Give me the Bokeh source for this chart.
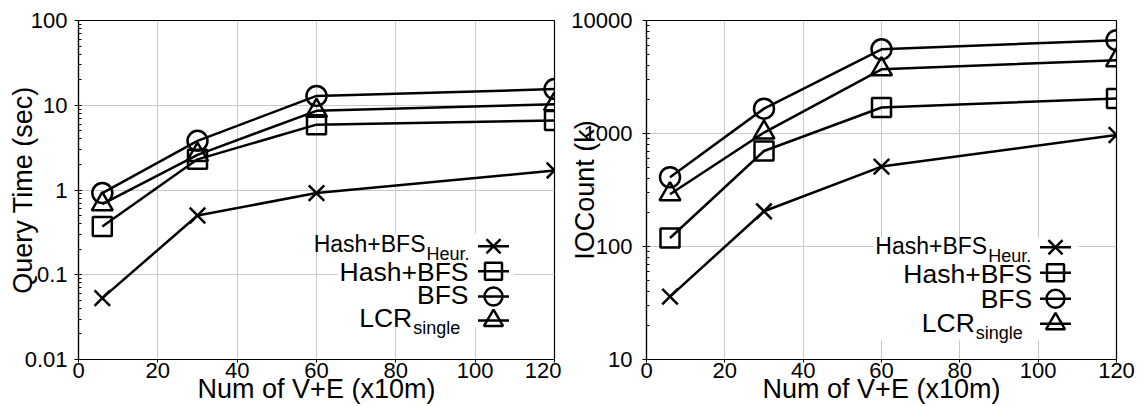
from bokeh.plotting import figure
from bokeh.layouts import row
from bokeh.models import Range1d, LinearScale, FixedTicker, LogTicker, CustomJSTickFormatter
from bokeh.embed import file_html
from bokeh.resources import INLINE
from bokeh.core.properties import value

# ---------------- data ----------------
sizes = [6, 30, 60, 120]                      # Num of V+E (x10m)
x_ticks = [0, 20, 40, 60, 80, 100, 120]

query_heur = [0.053, 0.50, 0.92, 1.70]        # Hash+BFS_Heur.
query_hash = [0.37, 2.3, 5.9, 6.6]            # Hash+BFS
query_bfs = [0.92, 3.8, 12.9, 15.5]           # BFS
query_lcr = [0.68, 2.6, 8.6, 10.3]            # LCR_single

io_heur = [36, 205, 510, 970]
io_hash = [119, 700, 1700, 2040]
io_bfs = [410, 1660, 5560, 6700]
io_lcr = [290, 1020, 3700, 4450]

series_main = ["Hash+BFS", "Hash+BFS", "BFS", "LCR"]
series_sub = ["Heur.", "", "", "single"]
markers = ["x", "square", "circle", "triangle"]
marker_sizes = [22, 19, 20, 21]

FONT = "Liberation Sans"
GRID = "#c8c8c8"

# ---------------- layout (screen px, not data) ----------------
H = 406
TOP, BOTTOM = 20, 47
FRAME_H = H - TOP - BOTTOM

panels = [
    dict(width=561, left=78, right=7, ylabel="Query Time (sec)",
         yr=(0.01, 100), label_standoff=-16, tick_standoff=7,
         series=[query_heur, query_hash, query_bfs, query_lcr],
         box=(259, 435, 32, 126),
         leg_x=415, leg_rows=[113.3, 88.3, 63, 39],
         txt_right=[347, 390, 390, 333.7], txt_mid=[115.1, 88, 65, 41.5]),
    dict(width=582, left=85, right=27, ylabel="IOCount (k)",
         yr=(10, 10000), label_standoff=-32, tick_standoff=10,
         series=[io_heur, io_hash, io_bfs, io_lcr],
         box=(227, 432, 19, 122),
         leg_x=409, leg_rows=[112.3, 86.7, 60.7, 35.7],
         txt_right=[340.7, 385.7, 385.7, 328.3], txt_mid=[113.2, 86, 60.7, 37]),
]

main_sizes = ["23px", "26.5px", "26.5px", "26.5px"]
SUB_DROP = 10


def make_panel(cfg):
    fw = cfg["width"] - cfg["left"] - cfg["right"]
    p = figure(width=cfg["width"], height=H, y_axis_type="log",
               x_range=Range1d(0, 120), y_range=Range1d(*cfg["yr"]),
               output_backend="svg", toolbar_location=None,
               min_border_left=cfg["left"], min_border_right=cfg["right"],
               min_border_top=TOP, min_border_bottom=BOTTOM)
    p.background_fill_color = "white"
    p.border_fill_color = "white"
    p.outline_line_color = "black"
    p.outline_line_width = 1.2

    # x axis
    xa = p.xaxis[0]
    xa.ticker = FixedTicker(ticks=x_ticks)
    xa.axis_label = "Num of V+E (x10m)"
    xa.axis_label_text_font = FONT
    xa.axis_label_text_font_style = "normal"
    xa.axis_label_text_font_size = "27px"
    xa.axis_label_text_color = "black"
    xa.axis_label_standoff = -7
    xa.major_label_text_font = FONT
    xa.major_label_text_font_size = "22px"
    xa.major_label_text_color = "black"
    xa.major_label_standoff = 0
    xa.major_tick_in = 0
    xa.major_tick_out = 3
    xa.minor_tick_line_color = None
    xa.axis_line_color = "black"
    xa.axis_line_width = 1.2

    # y axis
    ya = p.yaxis[0]
    ya.ticker = LogTicker(mantissas=[1], num_minor_ticks=10)
    ya.formatter = CustomJSTickFormatter(
        code="return tick >= 1 ? tick.toFixed(0) : tick.toPrecision(1);")
    ya.axis_label = cfg["ylabel"]
    ya.axis_label_text_font = FONT
    ya.axis_label_text_font_style = "normal"
    ya.axis_label_text_font_size = "27px"
    ya.axis_label_text_color = "black"
    ya.axis_label_standoff = cfg["label_standoff"]
    ya.major_label_text_font = FONT
    ya.major_label_text_font_size = "22px"
    ya.major_label_text_color = "black"
    ya.major_label_standoff = cfg["tick_standoff"]
    ya.major_tick_in = 3
    ya.major_tick_out = 4
    ya.minor_tick_in = 3
    ya.minor_tick_out = 0
    ya.axis_line_color = "black"
    ya.axis_line_width = 1.2

    p.xgrid.grid_line_color = GRID
    p.ygrid.grid_line_color = GRID
    p.xgrid.ticker = FixedTicker(ticks=x_ticks)

    # data series
    for vals, mk, ms in zip(cfg["series"], markers, marker_sizes):
        p.line(sizes, vals, line_color="black", line_width=2.5)
        p.scatter(sizes, vals, marker=mk, size=ms, line_color="black",
                  line_width=2.5, fill_color=None)

    # legend drawn in a pixel coordinate system of the frame
    p.extra_x_ranges = {"px": Range1d(0, fw)}
    p.extra_y_ranges = {"px": Range1d(0, FRAME_H)}
    p.extra_x_scales = {"px": LinearScale()}
    p.extra_y_scales = {"px": LinearScale()}
    bl, br, bb, bt = cfg["box"]
    p.quad(left=[bl], right=[br], bottom=[bb], top=[bt], fill_color="white",
           line_color=None, x_range_name="px", y_range_name="px")
    lx = cfg["leg_x"]
    for i in range(4):
        yy = cfg["leg_rows"][i]
        p.segment(x0=[lx - 15.5], y0=[yy], x1=[lx + 15.5], y1=[yy],
                  line_color="black", line_width=2.5,
                  x_range_name="px", y_range_name="px")
        p.scatter(x=[lx], y=[yy], marker=markers[i], size=marker_sizes[i] - 2,
                  line_color="black", line_width=2.5, fill_color=None,
                  x_range_name="px", y_range_name="px")
        p.text(x=[cfg["txt_right"][i]], y=[cfg["txt_mid"][i]],
               text=[series_main[i]], text_align="right",
               text_baseline="middle", text_font=value(FONT),
               text_font_size=main_sizes[i], text_color="black",
               x_range_name="px", y_range_name="px")
        if series_sub[i]:
            p.text(x=[cfg["txt_right"][i] + 1],
                   y=[cfg["txt_mid"][i] - SUB_DROP],
                   text=[series_sub[i]], text_align="left",
                   text_baseline="middle", text_font=value(FONT),
                   text_font_size="18px", text_color="black",
                   x_range_name="px", y_range_name="px")
    return p


plots = [make_panel(c) for c in panels]
layout = row(*plots, spacing=0)
open("out.html", "w").write(file_html(layout, INLINE))
